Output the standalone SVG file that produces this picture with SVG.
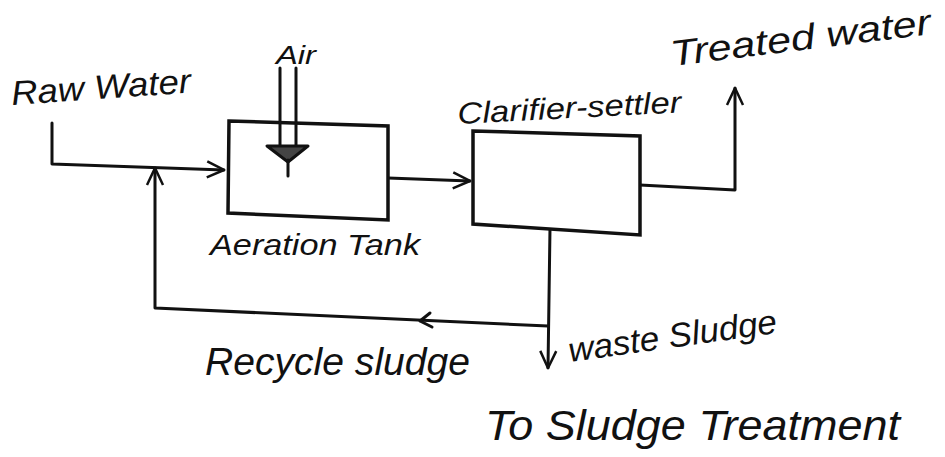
<svg xmlns="http://www.w3.org/2000/svg" width="945" height="457" viewBox="0 0 945 457">
<defs>
<style>
.ln{fill:none;stroke:#111;stroke-width:3;stroke-linecap:round;stroke-linejoin:round}
.bx{fill:#fff;stroke:#111;stroke-width:3.5}
.tx{font-family:"Liberation Sans","DejaVu Sans",sans-serif;font-style:italic;fill:#111}
</style>
<marker id="oa" viewBox="0 0 12 12" refX="11" refY="6" markerWidth="12" markerHeight="12" markerUnits="userSpaceOnUse" orient="auto">
<path d="M1,1 L11,6 L1,11" fill="none" stroke="#111" stroke-width="2"/>
</marker>
<marker id="ob" viewBox="0 0 20 20" refX="19" refY="10" markerWidth="20" markerHeight="20" markerUnits="userSpaceOnUse" orient="auto">
<path d="M2,2 L19,10 L2,18" fill="none" stroke="#111" stroke-width="2.5"/>
</marker>
</defs>
<rect width="945" height="457" fill="#fff"/>
<g id="connectors">
<path class="ln" d="M52,123 L52,164 L224,170" marker-end="url(#ob)"/>
<path class="ln" d="M548,326 L155,308 L155,168" marker-end="url(#ob)"/>
<path class="ln" d="M420,321 L430,313 M420,321 L432,327"/>
<path class="ln" d="M388,178 L470,181" marker-end="url(#ob)"/>
<path class="ln" d="M640,185 L735,190 L735,88" marker-end="url(#ob)"/>
<path class="ln" d="M550,228 L548,368" marker-end="url(#ob)"/>
<path class="ln" d="M555,218 L560,223"/>
</g>
<g id="aeration-tank">
<path class="bx" d="M229,121 L388,126 L388,220 L228,213 Z"/>
<text class="tx" x="210" y="255" font-size="30" textLength="210" lengthAdjust="spacingAndGlyphs">Aeration Tank</text>
</g>
<g id="air">
<path class="ln" d="M280,68 L280,146 M296,68 L296,146"/>
<path d="M267,146 L308,146 L288,162 Z" fill="#444" stroke="#111" stroke-width="3" stroke-linejoin="round"/>
<path class="ln" d="M288,160 L288,176"/>
<text class="tx" x="276" y="64" font-size="26" textLength="40" lengthAdjust="spacingAndGlyphs">Air</text>
</g>
<g id="raw-water">
<text class="tx" x="12" y="105" font-size="34" textLength="180" lengthAdjust="spacingAndGlyphs" transform="rotate(-4 12 105)">Raw Water</text>
</g>
<g id="clarifier-settler">
<path class="bx" d="M473,131 L640,136 L640,235 L473,224 Z"/>
<text class="tx" x="458" y="124" font-size="30" textLength="224" lengthAdjust="spacingAndGlyphs" transform="rotate(-3 458 124)">Clarifier-settler</text>
</g>
<g id="treated-water">
<text class="tx" x="672" y="66" font-size="36" textLength="262" lengthAdjust="spacingAndGlyphs" transform="rotate(-7 672 66)">Treated water</text>
</g>
<g id="recycle-sludge">
<text class="tx" x="205" y="375" font-size="38" textLength="265" lengthAdjust="spacingAndGlyphs">Recycle sludge</text>
</g>
<g id="waste-sludge">
<text class="tx" x="570" y="362" font-size="34" textLength="210" lengthAdjust="spacingAndGlyphs" transform="rotate(-8 570 362)">waste Sludge</text>
</g>
<g id="to-sludge-treatment">
<text class="tx" x="485" y="440" font-size="42" textLength="415" lengthAdjust="spacingAndGlyphs">To Sludge Treatment</text>
</g>
</svg>
